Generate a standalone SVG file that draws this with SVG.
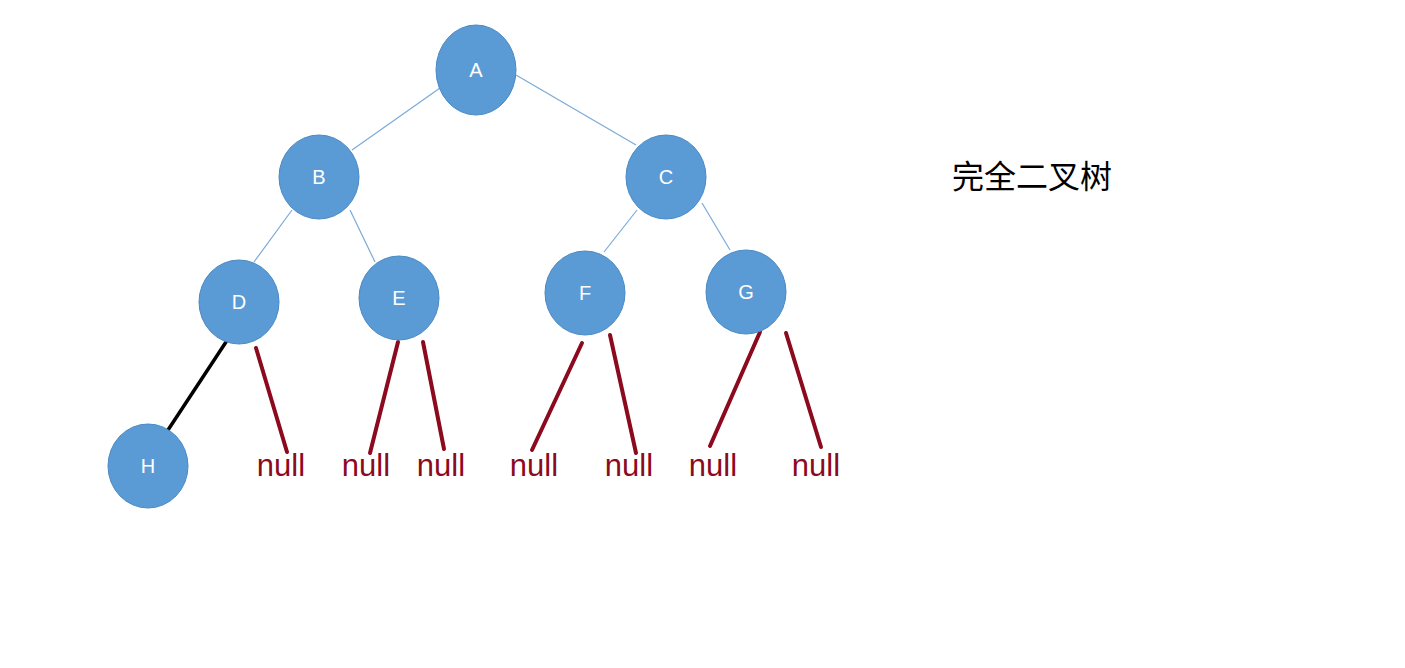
<svg xmlns="http://www.w3.org/2000/svg" width="1405" height="668" viewBox="0 0 1405 668">
<style>
.n ellipse{fill:#5b9bd5;stroke:#4a89c4;stroke-width:1}
.n text{fill:#fff;font-family:"Liberation Sans",sans-serif;font-size:20px;text-anchor:middle;dominant-baseline:central}
.e{stroke:#7aaad8;stroke-width:1.2}
.r{stroke:#8b0a1e;stroke-width:4;stroke-linecap:round}
.nl{fill:#8b0a1e;font-family:"Liberation Sans",sans-serif;font-size:31px;text-anchor:middle}
</style>
<rect width="1405" height="668" fill="#fff"/>
<g id="connectors">
<line class="e" x1="440" y1="88" x2="352" y2="150"/>
<line class="e" x1="516" y1="75" x2="636" y2="145"/>
<line class="e" x1="292" y1="210" x2="254" y2="262"/>
<line class="e" x1="350" y1="210" x2="375" y2="262"/>
<line class="e" x1="637" y1="210" x2="604" y2="252"/>
<line class="e" x1="702" y1="203" x2="730" y2="250"/>
<line x1="226" y1="342" x2="168" y2="430" stroke="#000" stroke-width="3.5" stroke-linecap="round"/>
<line class="r" x1="256" y1="348" x2="287" y2="452"/>
<line class="r" x1="398" y1="342" x2="370" y2="453"/>
<line class="r" x1="423" y1="342" x2="444" y2="449"/>
<line class="r" x1="582" y1="343" x2="532" y2="450"/>
<line class="r" x1="610" y1="335" x2="636" y2="453"/>
<line class="r" x1="760" y1="332" x2="710" y2="446"/>
<line class="r" x1="786" y1="333" x2="821" y2="447"/>
</g>
<g id="A" class="n"><ellipse cx="476" cy="70" rx="40" ry="45"/><text x="476" y="70">A</text></g>
<g id="B" class="n"><ellipse cx="319" cy="177" rx="40" ry="42"/><text x="319" y="177">B</text></g>
<g id="C" class="n"><ellipse cx="666" cy="177" rx="40" ry="42"/><text x="666" y="177">C</text></g>
<g id="D" class="n"><ellipse cx="239" cy="302" rx="40" ry="42"/><text x="239" y="302">D</text></g>
<g id="E" class="n"><ellipse cx="399" cy="298" rx="40" ry="42"/><text x="399" y="298">E</text></g>
<g id="F" class="n"><ellipse cx="585" cy="293" rx="40" ry="42"/><text x="585" y="293">F</text></g>
<g id="G" class="n"><ellipse cx="746" cy="292" rx="40" ry="42"/><text x="746" y="292">G</text></g>
<g id="H" class="n"><ellipse cx="148" cy="466" rx="40" ry="42"/><text x="148" y="466">H</text></g>
<g id="nulls">
<text class="nl" x="281" y="476">null</text>
<text class="nl" x="366" y="476">null</text>
<text class="nl" x="441" y="476">null</text>
<text class="nl" x="534" y="476">null</text>
<text class="nl" x="629" y="476">null</text>
<text class="nl" x="713" y="476">null</text>
<text class="nl" x="816" y="476">null</text>
</g>
<text x="1032" y="188" font-family="'Noto Sans CJK SC',sans-serif" font-size="32" text-anchor="middle" fill="#000">完全二叉树</text>
</svg>
